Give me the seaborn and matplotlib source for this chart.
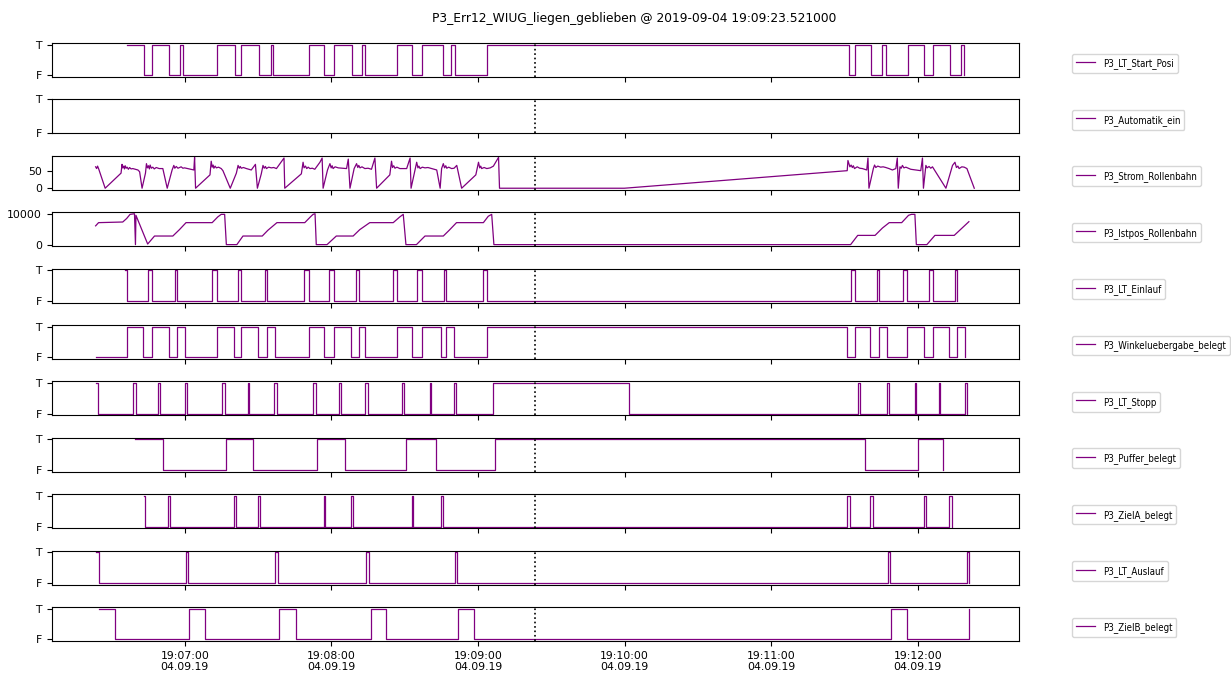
import matplotlib
matplotlib.use("Agg")
import matplotlib.pyplot as plt
import matplotlib.dates as mdates
import seaborn as sns
import pandas as pd

T0 = pd.Timestamp("2019-09-04 19:06:00")
EVENT = pd.Timestamp("2019-09-04 19:09:23.521")
TITLE = "P3_Err12_WIUG_liegen_geblieben @ 2019-09-04 19:09:23.521000"

# ---- boolean signals: change times (s after 19:06:00) and states ----
START_POSI_T = [36.2, 43.4, 46.6, 53.7, 58.1, 59.2, 73.1, 80.6, 83.1, 90.3, 95.4, 96.1,
                110.8, 116.8, 121.0, 128.5, 132.6, 133.7, 146.9, 152.8, 156.9, 165.8,
                168.8, 170.5, 183.5, 331.8, 334.4, 340.8, 345.5, 346.9, 355.8, 362.7,
                366.3, 373.2, 377.6, 378.9]
START_POSI_V = [1, 0] * 18

AUTOMATIK_T = []
AUTOMATIK_V = []

EINLAUF_T = [35.7, 36.2, 44.8, 46.6, 55.9, 56.8, 71.2, 73.1, 81.7, 83.1, 92.7, 93.6,
             108.8, 110.8, 119.0, 121.0, 130.0, 131.2, 145.3, 147.0, 155.2, 156.9,
             166.2, 167.1, 182.2, 183.5, 332.5, 334.4, 343.3, 344.3, 354.1, 355.6,
             364.4, 366.3, 375.2, 376.1]
EINLAUF_V = [1, 0] * 18

WINKEL_T = [23.5, 36.2, 43.0, 46.6, 53.4, 56.8, 60.1, 73.1, 80.1, 83.1, 89.9, 93.6,
            96.8, 110.8, 117.0, 121.0, 128.2, 131.2, 133.7, 146.9, 152.8, 156.9,
            164.8, 166.9, 170.3, 183.5, 331.1, 334.4, 340.4, 344.3, 347.2, 355.6,
            362.4, 366.3, 372.8, 376.1, 379.3]
WINKEL_V = [0] + [1, 0] * 18

STOPP_T = [23.5, 24.3, 38.7, 40.0, 48.9, 49.9, 60.1, 60.9, 75.3, 76.5, 85.8, 86.2,
           96.5, 97.7, 112.5, 113.6, 123.0, 124.1, 133.7, 135.0, 149.0, 149.6,
           160.3, 160.7, 170.3, 171.0, 186.0, 241.6, 335.7, 336.5, 347.2, 348.3,
           358.7, 359.2, 368.5, 368.9, 379.3, 380.3]
STOPP_V = [1, 0] * 19

PUFFER_T = [39.8, 51.0, 76.9, 87.9, 114.1, 125.7, 150.7, 162.6, 187.0, 338.3, 359.9, 370.3]
PUFFER_V = [1, 0] * 6

ZIELA_T = [43.2, 43.9, 53.3, 54.1, 80.1, 81.0, 89.9, 90.9, 117.0, 117.5, 128.2, 128.9,
           152.8, 153.5, 164.7, 165.8, 331.1, 332.2, 340.4, 341.6, 362.4, 363.5,
           372.8, 373.8]
ZIELA_V = [1, 0] * 12

AUSLAUF_T = [23.5, 24.7, 60.3, 61.2, 97.0, 98.1, 134.3, 135.4, 170.6, 171.5,
             347.6, 348.6, 380.0, 380.9]
AUSLAUF_V = [1, 0] * 7

ZIELB_T = [24.7, 31.6, 61.6, 68.1, 98.4, 105.4, 136.0, 142.5, 171.9, 178.3,
           349.1, 355.6, 380.9]
ZIELB_V = [1, 0] * 6 + [1]

# ---- analog signals: (s after 19:06:00, value) ----
STROM = [(23.5, 61), (23.9, 56), (24.3, 63), (24.8, 54), (27.4, 0), (33.9, 43), (34.3, 68),
         (34.6, 58), (35.0, 63), (35.3, 55), (35.6, 64), (36.0, 57), (36.4, 60), (36.9, 54),
         (37.4, 59), (38.0, 55), (38.7, 56), (40.8, 52), (41.5, 47),
         (42.5, 0), (43.9, 43), (44.3, 70), (44.7, 58), (45.1, 64), (45.5, 55), (45.8, 66),
         (46.3, 57), (46.9, 60), (47.5, 55), (48.3, 59), (49.5, 56),
         (51.0, 56), (52.8, 0), (54.8, 52), (55.5, 65), (55.9, 57), (56.5, 62), (57.2, 57),
         (58.5, 61), (59.2, 57), (59.9, 58), (63.7, 52), (64.0, 88), (64.4, 0), (70.3, 38),
         (70.8, 77), (71.2, 60), (71.6, 66), (71.9, 57), (72.4, 63), (72.9, 58), (73.8, 60),
         (74.9, 56), (75.6, 50), (78.6, 0), (81.1, 43), (81.8, 65), (82.3, 57), (82.7, 62),
         (83.1, 57), (84.0, 59), (85.2, 56), (87.2, 52), (88.9, 68), (89.7, 0), (91.3, 41),
         (92.0, 65), (92.5, 57), (93.0, 62), (93.4, 56), (94.3, 60), (95.4, 58), (96.4, 59),
         (97.5, 56), (100.6, 86), (100.9, 0), (107.7, 41), (108.4, 74), (108.8, 58),
         (109.4, 63), (109.9, 56), (110.5, 60), (111.2, 56), (112.2, 57), (113.2, 54),
         (115.3, 74), (116.2, 86), (116.6, 0), (118.4, 52), (119.4, 70), (119.9, 58),
         (120.3, 64), (120.7, 56), (121.5, 61), (122.8, 58), (124.5, 57), (126.2, 56),
         (126.9, 83), (127.6, 0), (129.3, 56), (130.3, 70), (130.8, 59), (131.2, 65),
         (131.7, 58), (132.5, 61), (133.7, 56), (135.0, 57), (136.4, 54), (137.8, 86),
         (138.5, 0), (143.9, 38), (144.6, 77), (145.0, 59), (145.5, 64), (146.0, 57),
         (146.8, 60), (148.0, 56), (150.8, 56), (152.2, 86), (152.6, 0), (154.2, 52),
         (154.9, 74), (155.4, 58), (155.8, 63), (156.3, 56), (157.2, 60), (158.3, 58),
         (159.5, 59), (161.0, 56), (163.1, 52), (164.5, 0), (165.1, 56), (165.8, 70),
         (166.3, 58), (166.8, 64), (167.2, 57), (168.0, 60), (169.2, 56), (170.2, 57),
         (171.3, 65), (173.3, 0), (179.1, 38), (180.2, 74), (180.7, 58), (181.1, 63),
         (181.5, 56), (182.5, 59), (183.6, 56), (185.0, 58), (186.3, 63), (188.4, 88),
         (188.8, 0), (239.9, 0), (331.1, 50),
         (331.4, 79), (332.2, 61), (332.7, 66), (333.2, 59), (333.6, 64), (334.1, 56),
         (335.2, 61), (336.2, 57), (337.3, 56), (339.1, 52), (339.6, 86), (340.0, 0),
         (341.8, 56), (342.3, 66), (342.8, 59), (343.6, 63), (344.8, 60), (345.8, 61),
         (346.9, 59), (348.2, 56), (349.6, 52), (351.0, 56), (351.6, 86), (352.0, 0),
         (352.7, 61), (353.2, 57), (353.7, 65), (354.3, 58), (355.1, 60), (357.1, 54),
         (361.2, 50), (361.9, 86), (362.3, 0), (363.3, 65), (363.8, 58), (364.6, 62),
         (365.3, 57), (366.0, 61), (371.5, 0), (374.2, 65), (375.2, 74), (375.8, 59),
         (376.4, 63), (376.9, 56), (378.0, 61), (379.0, 60), (380.1, 56), (383.1, 0)]

ISTPOS = [(23.5, 6200), (24.7, 7260), (34.6, 7470), (36.2, 8630), (37.6, 10000),
          (39.4, 10200), (39.8, 0), (40.0, 9680), (44.8, 200), (47.6, 2840), (55.1, 2840),
          (57.8, 4950), (60.5, 7260), (71.2, 7260), (73.5, 9160), (74.9, 10000),
          (76.3, 10000), (77.0, 0), (81.3, 0), (83.8, 2840), (91.7, 2840), (94.0, 4740),
          (97.7, 7260), (109.1, 7260), (111.4, 9160), (112.5, 10000), (113.3, 10200),
          (113.8, 0), (118.2, 0), (122.0, 2840), (128.9, 2840), (131.6, 4950),
          (135.7, 7260), (145.3, 7260), (148.0, 9160), (149.4, 10000), (150.5, 0),
          (154.8, 0), (158.3, 2840), (165.8, 2840), (168.2, 4740), (171.2, 7260),
          (182.2, 7260), (184.2, 9370), (185.6, 10000), (186.5, 0), (332.5, 0),
          (335.4, 3050), (342.5, 3050), (345.5, 5470), (348.3, 7260), (353.4, 7260),
          (356.2, 9680), (357.4, 10000), (358.8, 10000), (359.4, 0), (363.7, 0),
          (367.0, 3050), (374.9, 3050), (380.9, 7580)]

STROM_T, STROM_V = [p[0] for p in STROM], [p[1] for p in STROM]
ISTPOS_T, ISTPOS_V = [p[0] for p in ISTPOS], [p[1] for p in ISTPOS]

SIGNALS = [
    ("P3_LT_Start_Posi", "bool", START_POSI_T, START_POSI_V),
    ("P3_Automatik_ein", "bool", AUTOMATIK_T, AUTOMATIK_V),
    ("P3_Strom_Rollenbahn", "num", STROM_T, STROM_V),
    ("P3_Istpos_Rollenbahn", "num", ISTPOS_T, ISTPOS_V),
    ("P3_LT_Einlauf", "bool", EINLAUF_T, EINLAUF_V),
    ("P3_Winkeluebergabe_belegt", "bool", WINKEL_T, WINKEL_V),
    ("P3_LT_Stopp", "bool", STOPP_T, STOPP_V),
    ("P3_Puffer_belegt", "bool", PUFFER_T, PUFFER_V),
    ("P3_ZielA_belegt", "bool", ZIELA_T, ZIELA_V),
    ("P3_LT_Auslauf", "bool", AUSLAUF_T, AUSLAUF_V),
    ("P3_ZielB_belegt", "bool", ZIELB_T, ZIELB_V),
]
NUM_TICKS = {"P3_Strom_Rollenbahn": [0, 50], "P3_Istpos_Rollenbahn": [0, 10000]}

LINE_COLOR = "purple"

fig, axes = plt.subplots(len(SIGNALS), 1, figsize=(12.31, 6.77), dpi=100, sharex=True)
fig.subplots_adjust(left=0.042, right=0.828, top=0.9365, bottom=0.0532, hspace=0.66)

for ax, (name, kind, t, v) in zip(axes, SIGNALS):
    assert len(t) == len(v), name
    if len(t):
        df = pd.DataFrame({"time": T0 + pd.to_timedelta(t, unit="s"), "value": v})
        sns.lineplot(data=df, x="time", y="value", ax=ax, color=LINE_COLOR, lw=0.9,
                     label=name, estimator=None, sort=False,
                     drawstyle="steps-post" if kind == "bool" else "default")
    else:
        ax.plot([], [], color=LINE_COLOR, lw=0.9, label=name)
        ax.set_ylim(0, 1)
    ax.axvline(EVENT, color="black", ls=":", lw=1.2)
    ax.set_xlabel("")
    ax.set_ylabel("")
    if kind == "bool":
        ax.set_yticks([0, 1])
        ax.set_yticklabels(["F", "T"])
    else:
        ax.set_yticks(NUM_TICKS[name])
    ax.tick_params(labelsize=7.8)
    ax.legend(loc="center left", bbox_to_anchor=(1.05, 0.4), handleheight=1.5,
              prop={"size": 6.9, "stretch": "condensed"})

axes[-1].set_xlim(EVENT - pd.Timedelta(seconds=198), EVENT + pd.Timedelta(seconds=198))
axes[-1].xaxis.set_major_locator(mdates.MinuteLocator())
axes[-1].xaxis.set_major_formatter(mdates.DateFormatter("%H:%M:%S\n%d.%m.%y"))
for lab in axes[-1].get_xticklabels():
    lab.set_horizontalalignment("center")

fig.suptitle(TITLE, fontsize=8.8, x=0.515, y=0.982)
fig.savefig("out.png", dpi=100)
